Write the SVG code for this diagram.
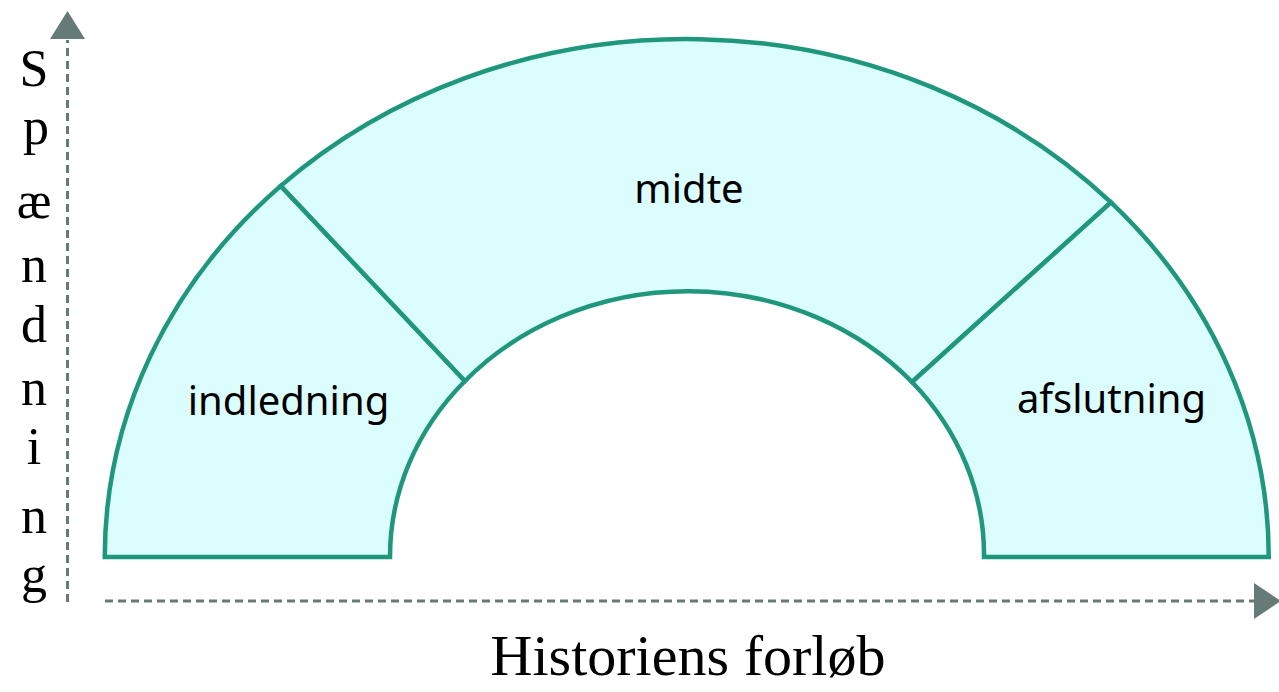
<svg xmlns="http://www.w3.org/2000/svg" width="1279" height="692" viewBox="0 0 1279 692">
<style>
.seg{fill:#dcfdfd;stroke:#1f977d;stroke-width:4.5;stroke-linejoin:miter}
.lbl{font-family:"Noto Sans","Open Sans",sans-serif;font-size:40px;fill:#000;text-anchor:middle}
.axis{stroke:#667a77;stroke-width:3;stroke-dasharray:8 5;fill:none}
.head{fill:#667a77}
.hand{font-family:"Liberation Serif","DejaVu Serif",serif;fill:#000;text-anchor:middle}
</style>
<rect width="1279" height="692" fill="#fff"/>
<g id="connectors">
<line class="axis" x1="67.5" y1="602" x2="67.5" y2="40"/>
<polygon class="head" points="67.5,11 50,39 85,39"/>
<line class="axis" x1="105" y1="601" x2="1254" y2="601"/>
<polygon class="head" points="1254,583 1254,619 1281,601"/>
</g>
<g id="indledning">
<path class="seg" d="M104.75,557 A582,518 0 0 1 280.75,185.9 L465,381 A297,264.5 0 0 0 390,557 Z"/>
<text class="lbl" x="288.5" y="415">indledning</text>
</g>
<g id="midte">
<path class="seg" d="M280.75,185.9 A582,518 0 0 1 1111,202.4 L912,382 A297,264.5 0 0 0 465,381 Z"/>
<text class="lbl" x="689" y="203">midte</text>
</g>
<g id="afslutning">
<path class="seg" d="M1111,202.4 A582,518 0 0 1 1268.75,557 L984,557 A297,264.5 0 0 0 912,382 Z"/>
<text class="lbl" x="1111.5" y="413">afslutning</text>
</g>
<g id="y-label">
<text class="hand" font-size="52"><tspan x="34" y="86">S</tspan><tspan x="36" y="144">p</tspan><tspan x="34" y="218">æ</tspan><tspan x="34" y="282">n</tspan><tspan x="34" y="342">d</tspan><tspan x="34" y="405">n</tspan><tspan x="34" y="464">i</tspan><tspan x="34" y="533">n</tspan><tspan x="34" y="592">g</tspan></text>
</g>
<g id="x-label">
<text class="hand" x="688" y="675" font-size="56" textLength="395" lengthAdjust="spacingAndGlyphs">Historiens forløb</text>
</g>
</svg>
